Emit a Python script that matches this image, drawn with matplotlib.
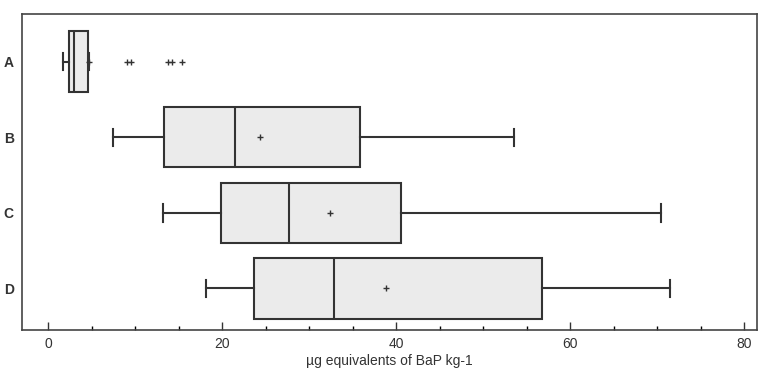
import matplotlib
matplotlib.use('Agg')
import matplotlib.pyplot as plt

plt.rcParams['font.family'] = ['Liberation Sans', 'DejaVu Sans']

# group labels
groups = ['A', 'B', 'C', 'D']
# five-number summaries
whislo = [1.7, 7.5, 13.2, 18.1]
q1 = [2.4, 13.3, 19.9, 23.7]
med = [3.0, 21.5, 27.7, 32.9]
q3 = [4.6, 35.8, 40.6, 56.8]
whishi = [4.7, 53.6, 70.4, 71.5]
means = [4.7, 24.4, 32.4, 38.8]
fliers = [[9.1, 9.5, 13.8, 14.2, 15.4], [], [], []]

stats = []
for i, g in enumerate(groups):
    stats.append(dict(label=g, whislo=whislo[i], q1=q1[i], med=med[i],
                      q3=q3[i], whishi=whishi[i], mean=means[i],
                      fliers=fliers[i]))

fig = plt.figure(figsize=(7.61, 3.78), dpi=100)
ax = fig.add_axes([0.029, 0.127, 0.966, 0.836])

line = dict(color='#333333', linewidth=1.5)
ax.bxp(stats, positions=range(1, 5), vert=False, widths=0.8,
       patch_artist=True, showmeans=True,
       boxprops=dict(facecolor='#ebebeb', edgecolor='#333333', linewidth=1.5),
       medianprops=line, whiskerprops=line, capprops=line,
       capwidths=0.23,
       meanprops=dict(marker='+', markeredgecolor='#333333', markersize=5,
                      markeredgewidth=1),
       flierprops=dict(marker='+', markeredgecolor='#333333', markersize=5,
                       markeredgewidth=1))

ax.set_ylim(4.55, 0.37)
ax.set_xlim(-3.0, 81.5)
ax.set_xticks([0, 20, 40, 60, 80])
ax.set_xticks(range(0, 81, 5), minor=True)
ax.tick_params(axis='x', direction='in', length=6, width=1, labelsize=10,
               pad=5, colors='#333333')
ax.tick_params(axis='x', which='minor', direction='in', length=3, width=1)
ax.tick_params(axis='y', length=0, labelsize=10, pad=6)
for lbl in ax.get_yticklabels():
    lbl.set_color('#333333')
    lbl.set_fontweight('bold')
for s in ax.spines.values():
    s.set_color('#444444')
    s.set_linewidth(1.2)
ax.set_xlabel('µg equivalents of BaP kg-1', fontsize=10, color='#333333',
              labelpad=2)

fig.savefig('out.png', dpi=100)
